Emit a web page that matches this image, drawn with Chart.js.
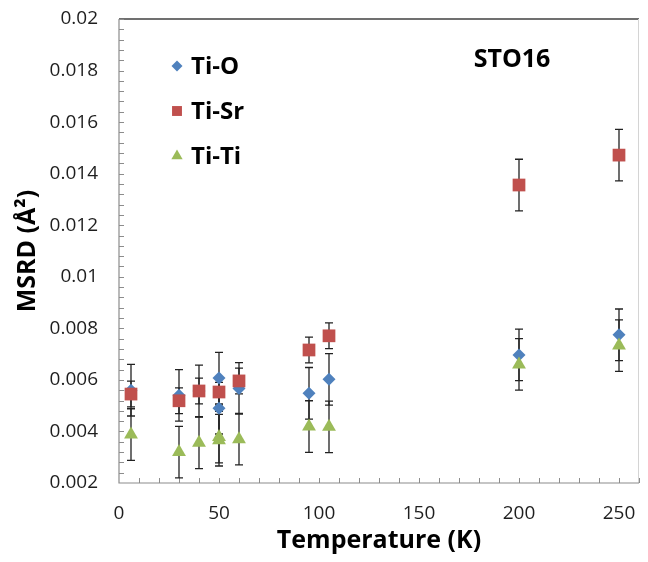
<!DOCTYPE html>
<html>
<head>
<meta charset="utf-8">
<script src="https://cdn.jsdelivr.net/npm/chart.js@4"></script>
<style>
html,body{margin:0;padding:0;background:#ffffff;}
#wrap{width:648px;height:562px;position:relative;}
</style>
</head>
<body>
<div id="wrap"><canvas id="c" width="648" height="562"></canvas></div>
<script>
// ---- data ----
const seriesNames = ['Ti-O', 'Ti-Sr', 'Ti-Ti'];

const tiO_T   = [6, 30, 40, 50, 50, 60, 95, 105, 200, 250];
const tiO_val = [0.0056, 0.0054, 0.00557, 0.00607, 0.0049, 0.00567, 0.00548, 0.00602, 0.00697, 0.00775];
const tiO_err = [0.001, 0.001, 0.001, 0.001, 0.001, 0.001, 0.001, 0.001, 0.001, 0.001];

const tiSr_T   = [6, 30, 40, 50, 60, 95, 105, 200, 250];
const tiSr_val = [0.00545, 0.00519, 0.00557, 0.00553, 0.00596, 0.00716, 0.00771, 0.01356, 0.01472];
const tiSr_err = [0.0005, 0.0005, 0.0005, 0.0005, 0.0005, 0.0005, 0.0005, 0.001, 0.001];

const tiTi_T   = [6, 30, 40, 50, 50, 60, 95, 105, 200, 250];
const tiTi_val = [0.00388, 0.0032, 0.00356, 0.00378, 0.00366, 0.0037, 0.00419, 0.00418, 0.0066, 0.00733];
const tiTi_err = [0.001, 0.001, 0.001, 0.001, 0.001, 0.001, 0.001, 0.001, 0.001, 0.001];

const xTickValues = [0, 50, 100, 150, 200, 250];
const yTickLabels = ['0.002', '0.004', '0.006', '0.008', '0.01', '0.012', '0.014', '0.016', '0.018', '0.02'];
const xTitle = 'Temperature (K)';
const yTitle = 'MSRD (Å²)';
const annotationText = 'STO16';

// ---- build datasets ----
function pts(T, v) { return T.map((t, i) => ({ x: t, y: v[i] })); }
const errors = [tiO_err, tiSr_err, tiTi_err];
const colors = ['#4F81BD', '#C0504D', '#9BBB59'];
const styles = ['rectRot', 'rect', 'triangle'];
const radii = [6.5, 9, 8];
const legendRadii = [5.5, 7, 6.5];

const datasets = [
  { label: seriesNames[0], data: pts(tiO_T, tiO_val), order: 3 },
  { label: seriesNames[1], data: pts(tiSr_T, tiSr_val), order: 2 },
  { label: seriesNames[2], data: pts(tiTi_T, tiTi_val), order: 1 }
].map((d, i) => Object.assign(d, {
  backgroundColor: colors[i],
  borderColor: colors[i],
  borderWidth: 0,
  pointStyle: styles[i],
  pointRadius: radii[i],
  pointHoverRadius: radii[i],
  showLine: false
}));

const FONT = '"Open Sans", "Liberation Sans", Arial, sans-serif';

// axes frame, minor ticks, error bars (under markers)
const framePlugin = {
  id: 'frame',
  beforeDatasetsDraw(chart) {
    const { ctx, chartArea: a, scales: { x, y } } = chart;
    ctx.save();
    // top border
    ctx.strokeStyle = '#404040'; ctx.lineWidth = 1.5;
    ctx.beginPath(); ctx.moveTo(a.left, a.top); ctx.lineTo(a.right, a.top); ctx.stroke();
    // right border
    ctx.strokeStyle = '#d4d4d4'; ctx.lineWidth = 1;
    ctx.beginPath(); ctx.moveTo(a.right - 0.5, a.top); ctx.lineTo(a.right - 0.5, a.bottom); ctx.stroke();
    // left and bottom axes
    ctx.strokeStyle = '#8c8c8c'; ctx.lineWidth = 1.2;
    ctx.beginPath();
    ctx.moveTo(a.left, a.top); ctx.lineTo(a.left, a.bottom); ctx.lineTo(a.right, a.bottom);
    ctx.stroke();
    // minor ticks (inside)
    ctx.lineWidth = 1;
    ctx.beginPath();
    for (let v = x.min + 10; v <= x.max + 1e-9; v += 10) {
      const px = Math.round(x.getPixelForValue(v)) + 0.5;
      ctx.moveTo(px, a.bottom); ctx.lineTo(px, a.bottom - 5);
    }
    const n = Math.round((y.max - y.min) / 0.0004);
    for (let k = 1; k <= n; k++) {
      const py = Math.round(y.getPixelForValue(y.min + k * 0.0004)) + 0.5;
      ctx.moveTo(a.left, py); ctx.lineTo(a.left + 5, py);
    }
    ctx.stroke();
    // error bars
    ctx.strokeStyle = '#222222'; ctx.lineWidth = 1.3;
    chart.data.datasets.forEach((ds, di) => {
      const err = errors[di];
      ds.data.forEach((p, i) => {
        const px = x.getPixelForValue(p.x);
        const yt = y.getPixelForValue(p.y + err[i]);
        const yb = y.getPixelForValue(p.y - err[i]);
        ctx.beginPath();
        ctx.moveTo(px, yt); ctx.lineTo(px, yb);
        ctx.moveTo(px - 4, yt); ctx.lineTo(px + 4, yt);
        ctx.moveTo(px - 4, yb); ctx.lineTo(px + 4, yb);
        ctx.stroke();
      });
    });
    ctx.restore();
  },
  afterDraw(chart) {
    const { ctx } = chart;
    ctx.save();
    // legend inside plot
    const lx = 177, ly0 = 66, dy = 45;
    chart.data.datasets.forEach((ds, i) => {
      const yy = ly0 + i * dy;
      ctx.fillStyle = colors[i];
      Chart.helpers.drawPoint(ctx, { pointStyle: styles[i], radius: legendRadii[i], rotation: 0, borderWidth: 0 }, lx, yy);
      ctx.fillStyle = '#000000';
      ctx.font = 'bold 24px ' + FONT;
      ctx.textAlign = 'left'; ctx.textBaseline = 'middle';
      ctx.fillText(ds.label, 191, yy + 1);
    });
    // annotation
    ctx.fillStyle = '#000000';
    ctx.font = 'bold 25px ' + FONT;
    ctx.textAlign = 'center'; ctx.textBaseline = 'middle';
    ctx.fillText(annotationText, 512, 60);
    ctx.restore();
  }
};

new Chart(document.getElementById('c'), {
  type: 'scatter',
  data: { datasets },
  options: {
    responsive: false,
    animation: false,
    devicePixelRatio: 1,
    layout: { padding: { left: 0, right: 1, top: 19, bottom: 0 } },
    plugins: { legend: { display: false }, tooltip: { enabled: false } },
    scales: {
      x: {
        type: 'linear', min: 0, max: 260,
        afterBuildTicks: s => { s.ticks = xTickValues.map(v => ({ value: v })); },
        afterFit: s => { s.height = 79; s.paddingLeft = 0; s.paddingRight = 0; },
        grid: { display: false, drawTicks: false },
        border: { display: false },
        ticks: { font: { family: FONT, size: 19 }, color: '#1e1e1e', padding: 19, maxRotation: 0, autoSkip: false },
        title: { display: true, text: xTitle, font: { family: FONT, size: 25, weight: 'bold' }, color: '#000000', padding: { top: 0, bottom: 6 } }
      },
      y: {
        type: 'linear', min: 0.002, max: 0.02,
        afterBuildTicks: s => { s.ticks = yTickLabels.map(t => ({ value: parseFloat(t) })); },
        afterFit: s => { s.width = 119; s.paddingTop = 0; s.paddingBottom = 0; },
        grid: { display: false, drawTicks: false },
        border: { display: false },
        ticks: { font: { family: FONT, size: 19 }, color: '#1e1e1e', padding: 21, autoSkip: false,
                 callback: (v, i) => yTickLabels[i] },
        title: { display: true, text: yTitle, font: { family: FONT, size: 25, weight: 'bold' }, color: '#000000', padding: { top: 13, bottom: 0 } }
      }
    }
  },
  plugins: [framePlugin]
});
</script>
</body>
</html>
